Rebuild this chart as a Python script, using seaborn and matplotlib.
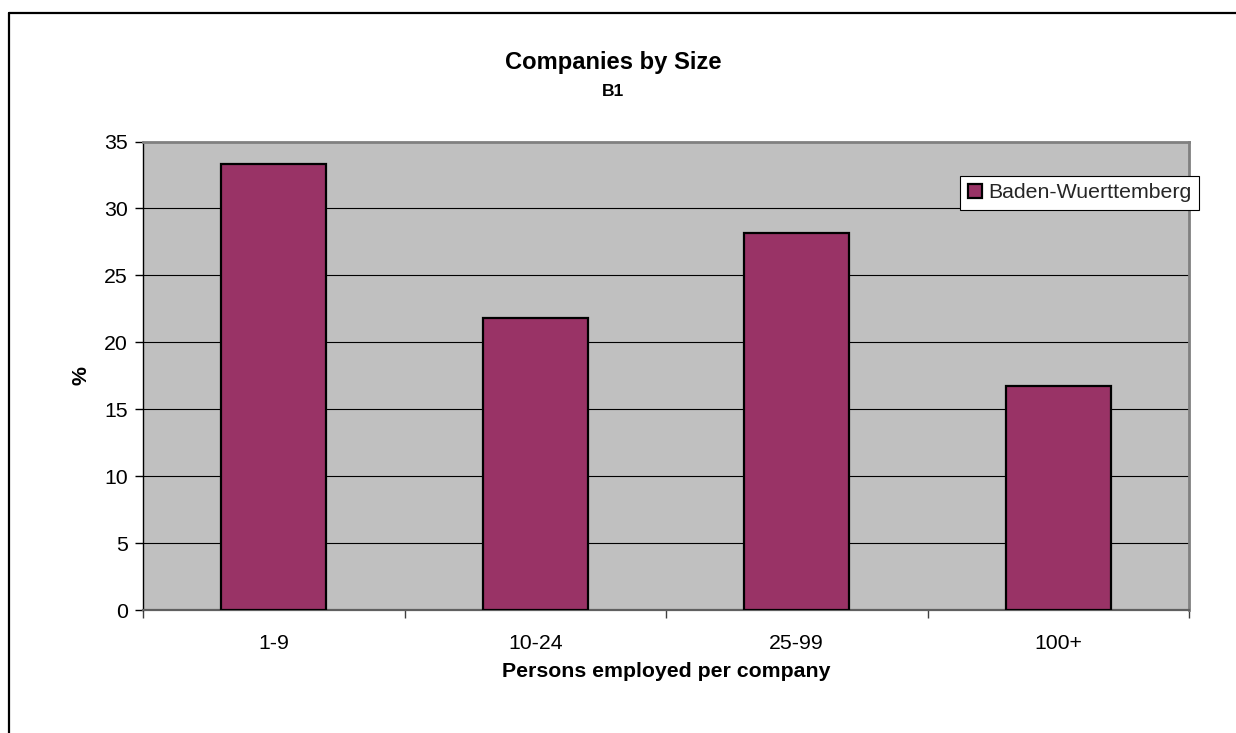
import matplotlib
matplotlib.use("Agg")
import matplotlib.pyplot as plt
from matplotlib.lines import Line2D
from matplotlib.patches import Patch
import pandas as pd
import seaborn as sns

# Share of companies by number of persons employed
size_classes = ["1-9", "10-24", "25-99", "100+"]
share_pct = [33.3, 21.8, 28.2, 16.7]
region = "Baden-Wuerttemberg"
y_ticks = [0, 5, 10, 15, 20, 25, 30, 35]

df = pd.DataFrame({"size": size_classes, "pct": share_pct, "region": region})

sns.set_theme(style="white")
plt.rcParams["font.family"] = ["Liberation Sans", "DejaVu Sans"]

W, H = 1236, 733
fig = plt.figure(figsize=(W / 100, H / 100), dpi=100)
fig.patch.set_facecolor("white")

# plot area in pixel units
left, right, top, bottom = 143, 1189, 141.5, 610
ax = fig.add_axes([left / W, 1 - bottom / H, (right - left) / W, (bottom - top) / H])
ax.set_facecolor("#C0C0C0")

bar_color = "#993366"
sns.barplot(data=df, x="size", y="pct", hue="region", palette=[bar_color],
            saturation=1, width=0.4, edgecolor="black", linewidth=1.6, ax=ax,
            legend=False, zorder=3)

ax.set_xlim(-0.5, len(size_classes) - 0.5)
ax.set_ylim(0, 35)
ax.set_yticks(y_ticks)
ax.set_yticklabels([str(t) for t in y_ticks])

# horizontal gridlines
for t in y_ticks[1:-1]:
    ax.axhline(t, color="black", lw=0.8, zorder=1)

# category boundary ticks on the x axis
ax.set_xticks([i - 0.5 for i in range(len(size_classes) + 1)], minor=True)
ax.tick_params(axis="x", which="major", length=0, pad=17, labelsize=15.3, colors="black")
ax.tick_params(axis="x", which="minor", length=6, width=1, color="#404040", direction="out", bottom=True)
ax.tick_params(axis="y", length=6, width=1, color="black", direction="out", left=True,
               pad=5, labelsize=15.3, labelcolor="black")

for side in ["top", "right"]:
    ax.spines[side].set_color("#808080")
    ax.spines[side].set_linewidth(2)
ax.spines["left"].set_color("black")
ax.spines["left"].set_linewidth(1)
ax.spines["bottom"].set_color("#606060")
ax.spines["bottom"].set_linewidth(1.6)

ax.set_xlabel("Persons employed per company", fontsize=15.3, fontweight="bold",
              color="black", labelpad=7)
ax.set_ylabel("%", fontsize=15.3, fontweight="bold", color="black", labelpad=10)

# legend
handle = Patch(facecolor=bar_color, edgecolor="black", linewidth=1.6, label=region)
leg = ax.legend(handles=[handle], loc="upper left", bbox_to_anchor=(0.781, 0.927),
                fontsize=15.3, frameon=True, fancybox=False, framealpha=1,
                edgecolor="black", borderpad=0.36, handlelength=0.68,
                handleheight=0.68, handletextpad=0.3, borderaxespad=0)
leg.get_frame().set_linewidth(0.8)
leg.set_zorder(5)

# titles
fig.text(613 / W, 1 - 62 / H, "Companies by Size", ha="center", va="center",
         fontsize=17.1, fontweight="bold", color="black")
fig.text(613 / W, 1 - 91 / H, "B1", ha="center", va="center",
         fontsize=12.6, fontweight="bold", color="black")

# chart area border (left and top edges)
fig.add_artist(Line2D([9 / W, 9 / W], [0, 1 - 13 / H], transform=fig.transFigure,
                      color="black", lw=1.6))
fig.add_artist(Line2D([9 / W, 1], [1 - 13 / H, 1 - 13 / H], transform=fig.transFigure,
                      color="black", lw=1.6))

fig.savefig("out.png", dpi=100)
